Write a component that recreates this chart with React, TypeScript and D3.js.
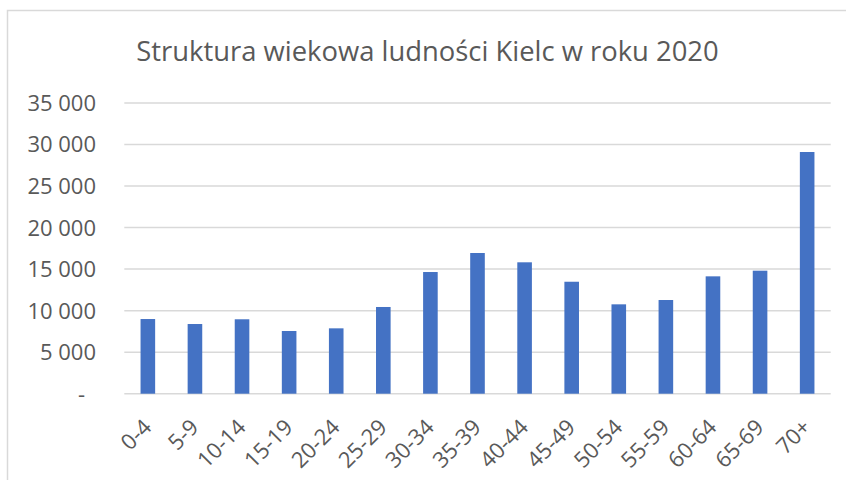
import React, { useEffect, useRef } from "react";
import * as d3 from "d3";

const ageGroups = ["0-4", "5-9", "10-14", "15-19", "20-24", "25-29", "30-34", "35-39", "40-44", "45-49", "50-54", "55-59", "60-64", "65-69", "70+"];
const population = [8990, 8390, 8960, 7550, 7870, 10440, 14650, 16940, 15820, 13480, 10760, 11280, 14130, 14810, 29100];
const yTicks = [0, 5000, 10000, 15000, 20000, 25000, 30000, 35000];
const title = "Struktura wiekowa ludności Kielc w roku 2020";

const width = 846;
const height = 480;
const font = "'Open Sans', 'DejaVu Sans', sans-serif";
const textColor = "#595959";
const gridColor = "#D9D9D9";

function App() {
  const ref = useRef<SVGSVGElement>(null);

  useEffect(() => {
    const svg = d3.select(ref.current);
    svg.selectAll("*").remove();

    // chart area frame (right and bottom edges are cropped off)
    svg.append("rect")
      .attr("x", 7.5).attr("y", 10.5)
      .attr("width", 900).attr("height", 500)
      .attr("fill", "#fff")
      .attr("stroke", gridColor).attr("stroke-width", 1.5);

    svg.append("text")
      .attr("x", 427.5).attr("y", 60.5)
      .attr("text-anchor", "middle")
      .attr("font-family", font).attr("font-size", 27.4)
      .attr("fill", textColor)
      .text(title);

    const x = d3.scaleBand<string>()
      .domain(ageGroups)
      .range([124.3, 830.7])
      .paddingInner(0.69)
      .paddingOuter(0.345);

    const y = d3.scaleLinear().domain([0, 35000]).range([393.7, 103]);

    const fmt = (d: number) => (d === 0 ? "-" : d3.format(",")(d).replace(/,/g, " "));

    // gridlines
    svg.append("g")
      .selectAll("line")
      .data(yTicks)
      .join("line")
      .attr("x1", 124.3).attr("x2", 830.7)
      .attr("y1", (d) => y(d)).attr("y2", (d) => y(d))
      .attr("stroke", gridColor).attr("stroke-width", 1.5);

    // y labels
    svg.append("g")
      .selectAll("text")
      .data(yTicks)
      .join("text")
      .attr("x", (d) => (d === 0 ? 85 : 96))
      .attr("y", (d) => y(d))
      .attr("dy", "0.36em")
      .attr("text-anchor", "end")
      .attr("font-family", font).attr("font-size", 22)
      .attr("fill", textColor)
      .text(fmt);

    // bars
    svg.append("g")
      .selectAll("rect")
      .data(population)
      .join("rect")
      .attr("x", (_, i) => x(ageGroups[i])!)
      .attr("width", x.bandwidth())
      .attr("y", (d) => y(d))
      .attr("height", (d) => y(0) - y(d))
      .attr("fill", "#4472C4");

    // x labels, rotated
    svg.append("g")
      .selectAll("text")
      .data(ageGroups)
      .join("text")
      .attr("transform", (d) => `translate(${x(d)! + x.bandwidth() / 2 + 5}, ${y(0) + 35}) rotate(-45)`)
      .attr("text-anchor", "end")
      .attr("font-family", font).attr("font-size", 22)
      .attr("fill", textColor)
      .text((d) => d);
  }, []);

  return (
    <svg ref={ref} width={width} height={height} style={{ position: "absolute", left: 0, top: 0, background: "#fff" }} />
  );
}

export default App;
